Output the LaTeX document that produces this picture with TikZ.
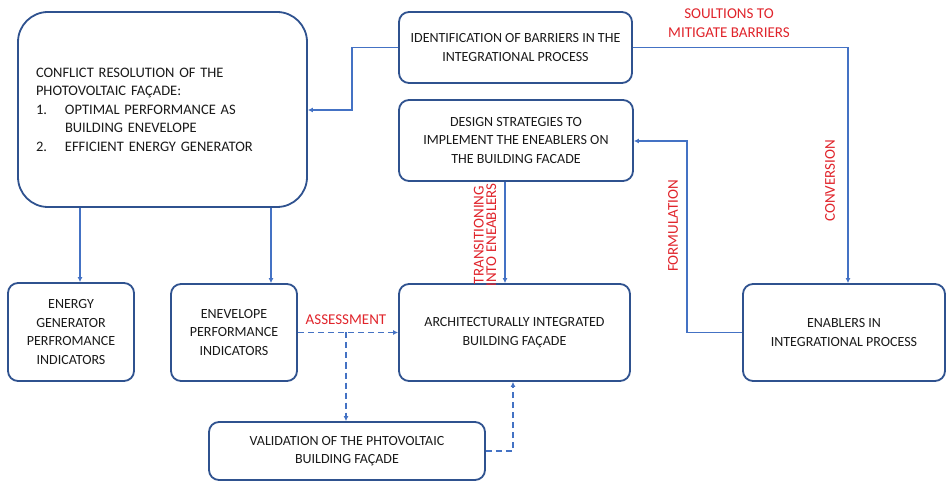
\documentclass[tikz,border=0pt]{standalone}
\usepackage{fontspec}
\setmainfont{Carlito}
\usetikzlibrary{arrows.meta, positioning}
\definecolor{edge}{HTML}{2F528F}
\definecolor{wire}{HTML}{4472C4}
\definecolor{note}{HTML}{E0242B}
\definecolor{txt}{HTML}{1A1A1A}

\begin{document}
\begin{tikzpicture}[x=1pt, y=-1pt,
      box/.style={draw=edge, line width=1.8pt, fill=white, rounded corners=10pt, align=center,
                  inner sep=0pt, font=\fontsize{14}{18.5}\selectfont\color{txt}},
      lbl/.style={font=\fontsize{15}{19}\selectfont\color{note}, align=center, inner sep=0pt},
      arr/.style={-{Latex[length=5pt, width=5pt]}, draw=wire, line width=1.4pt},
      dsh/.style={arr, dashed, dash pattern=on 6pt off 4pt}]
    \useasboundingbox (0,0) rectangle (946,481);

    \node[box, rounded corners=30pt, minimum width=289pt, minimum height=195pt] (conf) at (162.5,109.5) {};
    \node[font=\fontsize{14.5}{18.5}\selectfont\color{txt}, align=left, text width=253pt, inner sep=0pt]
      (conftxt) at (conf.center) {CONFLICT RESOLUTION OF THE\\PHOTOVOLTAIC FAÇADE:\\
      \makebox[29pt][l]{1.}OPTIMAL PERFORMANCE AS\\\hspace*{29pt}BUILDING ENEVELOPE\\
      \makebox[29pt][l]{2.}EFFICIENT ENERGY GENERATOR};
    \node[box, minimum width=233pt, minimum height=71pt] (barr) at (515.5,47.5) {IDENTIFICATION OF BARRIERS IN THE\\INTEGRATIONAL PROCESS};
    \node[box, minimum width=234pt, minimum height=81pt] (design) at (516,140.5) {DESIGN STRATEGIES TO\\IMPLEMENT THE ENEABLERS ON\\THE BUILDING FACADE};
    \node[box, minimum width=126pt, minimum height=98pt] (engen) at (71,332) {ENERGY\\GENERATOR\\PERFROMANCE\\INDICATORS};
    \node[box, minimum width=126pt, minimum height=97pt] (envel) at (234,332.5) {ENEVELOPE\\PERFORMANCE\\INDICATORS};
    \node[box, minimum width=231pt, minimum height=97pt] (arch) at (514.5,332.5) {ARCHITECTURALLY INTEGRATED\\BUILDING FAÇADE};
    \node[box, minimum width=202pt, minimum height=97pt] (enab) at (844,332.5) {ENABLERS IN\\INTEGRATIONAL PROCESS};
    \node[box, minimum width=276pt, minimum height=58pt] (valid) at (347,451) {VALIDATION OF THE PHTOVOLTAIC\\BUILDING FAÇADE};

    % solid links
    \draw[arr] (barr.west) -| (352,110) -- (conf.east |- 0,110);
    \draw[arr] (barr.east) -| (enab.north -| 848,0);
    \draw[arr] (conf.south -| 80,0) -- (engen.north -| 80,0);
    \draw[arr] (conf.south -| 271,0) -- (envel.north -| 271,0);
    \draw[arr] (design.south -| 505,0) -- (arch.north -| 505,0);
    \draw[arr] (enab.west) -| (687,141) -- (design.east |- 0,141);

    % dashed links
    \coordinate (split) at (346,332.5);
    \draw[dsh] (envel.east) -- (arch.west);
    \draw[dsh] (split) -- (valid.north -| split);
    \draw[dsh] (valid.east) -| (arch.south -| 513,0);

    % labels
    \node[lbl] (sol) at (729,23.5) {SOULTIONS TO\\MITIGATE BARRIERS};
    \node[lbl, rotate=90] (conv) at (830,181) {CONVERSION};
    \node[lbl, rotate=90] (form) at (673,226) {FORMULATION};
    \node[lbl, rotate=90, font=\fontsize{15}{12.5}\selectfont\color{note}] (trans) at (485,235) {TRANSITIONING\\INTO ENEABLERS};
    \node[lbl] (assess) at (346,320) {ASSESSMENT};
  \end{tikzpicture}
\end{document}
